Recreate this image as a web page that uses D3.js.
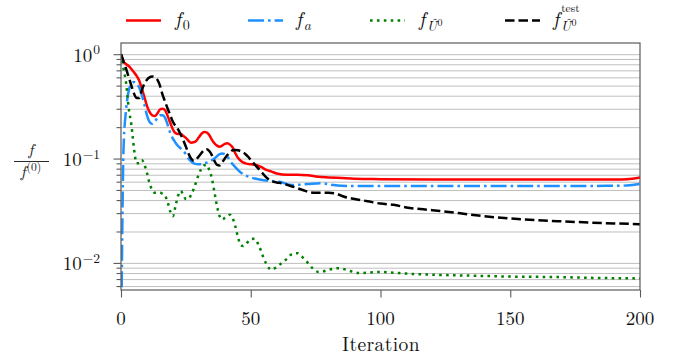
<!DOCTYPE html>
<html><head><meta charset="utf-8">
<script src="https://cdn.jsdelivr.net/npm/d3@7"></script>
<style>body{margin:0;background:#fff}svg{display:block}text{font-family:"Latin Modern Roman","Liberation Serif",serif;fill:#111}</style>
</head><body><svg id="c" width="683" height="360"></svg>
<script>
// ---------------- data ----------------
const xTicks = [0, 50, 100, 150, 200];
const yMajor = [1, 0.1, 0.01];
const yMajorExp = ["0", "\u22121", "\u22122"];
const xLabel = "Iteration";

const f0Iter = [0,1,2,3,4,5,6,7,8,9,10,11,12,13,14,15,16,17,18,19,20,21,22,23,24,25,26,27,28,29,30,31,32,33,34,35,36,37,38,39,40,41,42,43,44,45,46,47,48,50,52,54,56,58,60,64,68,72,76,80,85,90,100,120,150,180,190,195,200];
const f0Vals = [1.0,0.85,0.8,0.77,0.72,0.67,0.62,0.56,0.47,0.39,0.32,0.28,0.26,0.255,0.27,0.295,0.30,0.29,0.255,0.22,0.19,0.175,0.172,0.172,0.165,0.158,0.148,0.142,0.143,0.148,0.16,0.172,0.18,0.178,0.168,0.152,0.14,0.133,0.13,0.133,0.138,0.14,0.136,0.128,0.113,0.102,0.096,0.092,0.09,0.088,0.087,0.083,0.078,0.075,0.072,0.07,0.07,0.069,0.067,0.066,0.065,0.064,0.0635,0.063,0.063,0.063,0.063,0.0635,0.066];

const faIter = [0,1,2,3,4,5,6,7,8,9,10,11,12,13,14,15,16,17,18,19,20,21,22,23,24,25,26,27,28,30,32,34,36,38,39,40,41,42,44,46,48,50,52,55,58,61,66,72,77,82,87,100,150,190,195,200];
const faVals = [0.001,0.13,0.3,0.45,0.52,0.54,0.52,0.48,0.41,0.33,0.26,0.225,0.215,0.225,0.245,0.26,0.26,0.245,0.21,0.175,0.155,0.142,0.132,0.125,0.118,0.11,0.1,0.094,0.09,0.088,0.09,0.093,0.1,0.11,0.112,0.11,0.105,0.095,0.083,0.074,0.069,0.066,0.064,0.062,0.061,0.06,0.0557,0.057,0.058,0.0557,0.0546,0.0545,0.0545,0.0548,0.0552,0.057];

const fuIter = [0,1,2,3,4,5,6,7,8,9,10,11,12,13,14,15,16,17,18,19,20,21,22,23,24,25,26,27,28,29,30,31,32,33,34,35,36,37,38,39,40,41,42,43,44,45,46,47,48,49,50,51,52,53,54,55,56,57,58,59,60,62,64,66,68,70,72,74,76,78,80,84,88,92,96,100,104,110,120,130,150,170,180,200];
const fuVals = [1.0,0.72,0.52,0.3,0.21,0.125,0.09,0.09,0.097,0.088,0.073,0.058,0.05,0.047,0.047,0.047,0.046,0.044,0.038,0.031,0.028,0.035,0.044,0.049,0.045,0.041,0.041,0.045,0.051,0.06,0.071,0.08,0.086,0.087,0.078,0.065,0.048,0.035,0.028,0.026,0.027,0.028,0.029,0.027,0.0226,0.018,0.015,0.0145,0.015,0.016,0.0169,0.017,0.0168,0.0147,0.013,0.011,0.0098,0.0089,0.0086,0.0088,0.0092,0.01,0.011,0.0122,0.0124,0.0113,0.01,0.0088,0.0082,0.0083,0.0086,0.0089,0.0084,0.008,0.0081,0.0082,0.0081,0.0079,0.0077,0.0076,0.0074,0.0073,0.0072,0.0071];

const ftIter = [0,1,2,3,4,5,6,7,8,9,10,11,12,13,14,15,16,17,18,19,20,21,22,23,24,25,26,27,28,29,30,31,32,33,34,35,36,37,38,39,40,41,42,43,44,45,46,47,48,49,50,52,54,56,58,60,62,64,66,68,70,72,75,80,83,86,90,95,100,105,110,120,130,140,150,160,170,180,190,200];
const ftVals = [1.0,0.85,0.72,0.6,0.5,0.42,0.38,0.38,0.45,0.52,0.57,0.6,0.61,0.6,0.57,0.5,0.41,0.35,0.3,0.26,0.225,0.205,0.19,0.17,0.15,0.13,0.112,0.1,0.095,0.098,0.105,0.113,0.12,0.123,0.118,0.108,0.095,0.087,0.086,0.092,0.1,0.108,0.115,0.12,0.121,0.12,0.118,0.115,0.11,0.104,0.097,0.085,0.075,0.066,0.061,0.059,0.058,0.056,0.054,0.052,0.05,0.048,0.047,0.047,0.046,0.043,0.041,0.039,0.037,0.036,0.034,0.032,0.030,0.028,0.0267,0.0257,0.025,0.0244,0.0239,0.0235];

// ---------------- styles ----------------
const seriesDefs = [
  {iter: f0Iter, vals: f0Vals, color: "#ff0000", dash: null},
  {iter: faIter, vals: faVals, color: "#1e90ff", dash: "16,4,2.6,4"},
  {iter: fuIter, vals: fuVals, color: "#008000", dash: "2.6,4.3"},
  {iter: ftIter, vals: ftVals, color: "#000000", dash: "9.5,4"}
];
const L = 121, R = 640, T = 43, B = 290;

const svg = d3.select("#c");
const x = d3.scaleLinear().domain([0, 200]).range([L, R]);
const y = d3.scaleLog().domain([0.0055, 1.28]).range([B, T]);

const yAll = [];
for (let k = -3; k <= 0; k++) for (let m = 1; m <= 9; m++) {
  const v = m * Math.pow(10, k);
  if (v >= y.domain()[0] && v <= y.domain()[1]) yAll.push(v);
}
const yMinor = yAll.filter(v => !yMajor.some(M => Math.abs(M - v) / M < 1e-9));

// grid
const grid = svg.append("g").attr("transform", `translate(${L},0)`)
  .call(d3.axisLeft(y).tickValues(yAll).tickSize(-(R - L)).tickFormat(""));
grid.select(".domain").remove();
grid.selectAll("line").attr("stroke", "#bfbfbf").attr("stroke-width", 1);

svg.append("defs").append("clipPath").attr("id", "clip")
  .append("rect").attr("x", L).attr("y", T).attr("width", R - L).attr("height", B - T);

const line = d3.line().x(d => x(d[0])).y(d => y(d[1])).curve(d3.curveMonotoneX);
const plot = svg.append("g").attr("clip-path", "url(#clip)");
seriesDefs.forEach(s => {
  const pts = s.iter.map((it, i) => [it, s.vals[i]]);
  plot.append("path").datum(pts).attr("d", line)
    .attr("fill", "none").attr("stroke", s.color).attr("stroke-width", 2.5)
    .attr("stroke-dasharray", s.dash);
});

// frame
svg.append("rect").attr("x", L).attr("y", T).attr("width", R - L).attr("height", B - T)
  .attr("fill", "none").attr("stroke", "#5a5a5a").attr("stroke-width", 1.2);

// y axis ticks
const yAxMaj = svg.append("g").attr("transform", `translate(${L},0)`)
  .call(d3.axisLeft(y).tickValues(yMajor).tickSize(7.5).tickFormat(""));
const yAxMin = svg.append("g").attr("transform", `translate(${L},0)`)
  .call(d3.axisLeft(y).tickValues(yMinor).tickSize(4.5).tickFormat(""));
[yAxMaj, yAxMin].forEach(g => {
  g.select(".domain").remove();
  g.selectAll("line").attr("stroke", "#5a5a5a").attr("stroke-width", 1.1);
});
yMajor.forEach((v, i) => {
  const t = svg.append("text").attr("x", 100).attr("y", y(v) + 7.5)
    .attr("text-anchor", "end").style("font-size", "19px");
  t.append("tspan").text("10");
  t.append("tspan").style("font-size", "13.5px").attr("dy", -7.5).attr("dx", 1).text(yMajorExp[i]);
});

// x axis
const xAx = svg.append("g").attr("transform", `translate(0,${B})`)
  .call(d3.axisBottom(x).tickValues(xTicks).tickSize(7.5).tickFormat(""));
xAx.select(".domain").remove();
xAx.selectAll("line").attr("stroke", "#5a5a5a").attr("stroke-width", 1.1);
xTicks.forEach(v => {
  svg.append("text").attr("x", x(v)).attr("y", 324.5).attr("text-anchor", "middle")
    .style("font-size", "19px").text(v);
});
svg.append("text").attr("x", 381).attr("y", 350.5).attr("text-anchor", "middle")
  .style("font-size", "19.5px").attr("letter-spacing", 0.4).text(xLabel);

// y label: f / f^(0)
svg.append("text").attr("x", 31).attr("y", 155).attr("text-anchor", "middle")
  .style("font-size", "16px").style("font-style", "italic").text("f");
svg.append("line").attr("x1", 14).attr("x2", 49).attr("y1", 161.5).attr("y2", 161.5)
  .attr("stroke", "#111").attr("stroke-width", 0.9);
const den = svg.append("text").attr("x", 31).attr("y", 177).attr("text-anchor", "middle")
  .style("font-size", "16px");
den.append("tspan").style("font-style", "italic").text("f");
den.append("tspan").style("font-size", "11.5px").attr("dy", -6).attr("dx", 1).text("(0)");

// legend
const legY = 20.5, baseY = 26;
const legend = [
  {x1: 126, x2: 161, tx: 175, sub: "0", subItalic: false},
  {x1: 248, x2: 283, tx: 296, sub: "a", subItalic: true},
  {x1: 370, x2: 405, tx: 419, hat: true},
  {x1: 505, x2: 540, tx: 553, hat: true, test: true}
];
legend.forEach((lg, i) => {
  const s = seriesDefs[i];
  svg.append("line").attr("x1", lg.x1).attr("x2", lg.x2).attr("y1", legY).attr("y2", legY)
    .attr("stroke", s.color).attr("stroke-width", 2.5).attr("stroke-dasharray", s.dash);
  const t = svg.append("text").attr("x", lg.tx).attr("y", baseY).style("font-size", "20px");
  const f = t.append("tspan").style("font-style", "italic").text("f");
  if (!lg.hat) {
    t.append("tspan").style("font-size", "14px").attr("dy", 4).attr("dx", 1.5)
      .style("font-style", lg.subItalic ? "italic" : "normal").text(lg.sub);
  } else {
    t.append("tspan").style("font-size", "14px").attr("dy", 4.5).attr("dx", 1.5)
      .style("font-style", "italic").text("\u00DB");
    t.append("tspan").style("font-size", "10px").attr("dy", -5).attr("dx", 0.5).text("0");
    if (lg.test) {
      const fw = f.node().getComputedTextLength();
      svg.append("text").attr("x", lg.tx + fw + 2).attr("y", 12).style("font-size", "11.5px").text("test");
    }
  }
});
</script>
</body></html>
